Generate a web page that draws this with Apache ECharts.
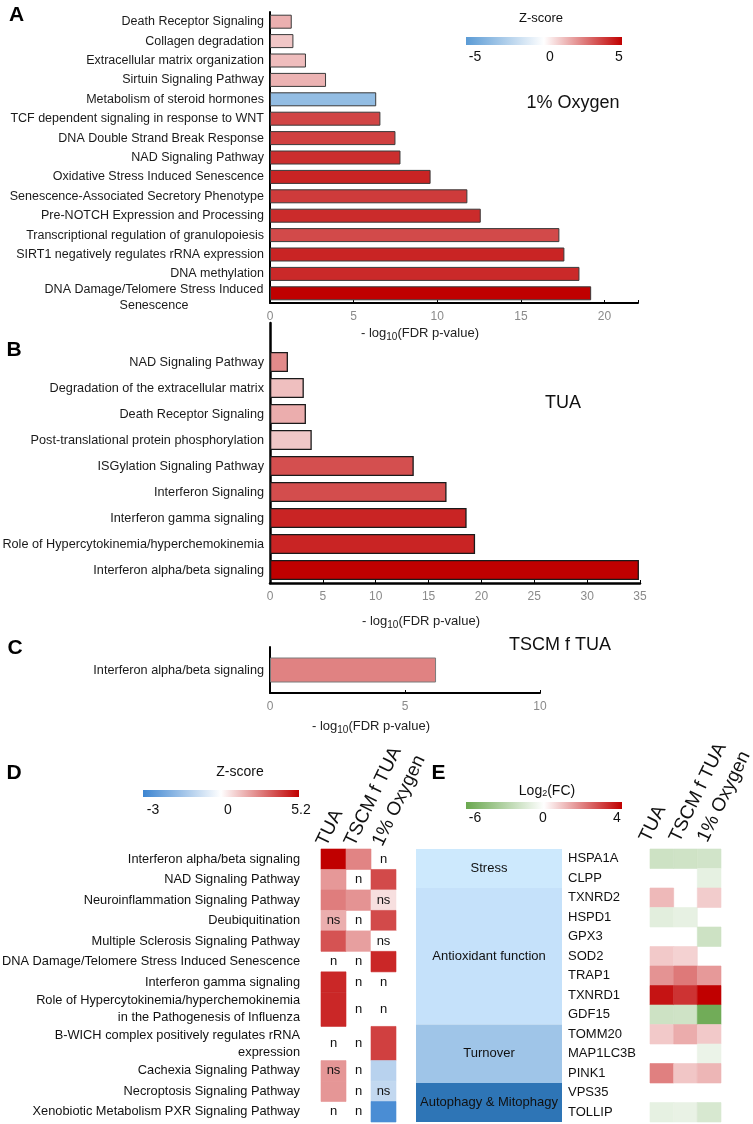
<!DOCTYPE html>
<html>
<head>
<meta charset="utf-8">
<script src="https://cdn.jsdelivr.net/npm/echarts@6.0.0/dist/echarts.min.js"></script>
<style>
html,body{margin:0;padding:0;background:#fff;}
#chart{width:753px;height:1124px;}
</style>
</head>
<body>
<div id="chart"></div>
<script>
// ---------------- DATA ----------------
const catA = ['Death Receptor Signaling','Collagen degradation','Extracellular matrix organization','Sirtuin Signaling Pathway','Metabolism of steroid hormones','TCF dependent signaling in response to WNT','DNA Double Strand Break Response','NAD Signaling Pathway','Oxidative Stress Induced Senescence','Senescence-Associated Secretory Phenotype','Pre-NOTCH Expression and Processing','Transcriptional regulation of granulopoiesis','SIRT1 negatively regulates rRNA expression','DNA methylation','DNA Damage/Telomere Stress Induced Senescence'];
const valA = [1.3, 1.4, 2.15, 3.35, 6.35, 6.6, 7.5, 7.8, 9.6, 11.8, 12.6, 17.3, 17.6, 18.5, 19.2];
const zA = [1.55, 1.1, 1.3, 1.5, -3.3, 3.65, 3.75, 4.1, 4.3, 3.85, 4.15, 3.55, 4.3, 4.2, 5.0];

const catB = ['NAD Signaling Pathway','Degradation of the extracellular matrix','Death Receptor Signaling','Post-translational protein phosphorylation','ISGylation Signaling Pathway','Interferon Signaling','Interferon gamma signaling','Role of Hypercytokinemia/hyperchemokinemia','Interferon alpha/beta signaling'];
const valB = [1.7, 3.2, 3.4, 3.95, 13.6, 16.7, 18.6, 19.4, 34.9];
const zB = [2.3, 1.25, 1.6, 1.1, 3.45, 3.5, 4.3, 4.3, 5.0];

const catC = ['Interferon alpha/beta signaling'];
const valC = [6.15];
const zC = [2.45];

const pathwaysD = ['Interferon alpha/beta signaling','NAD Signaling Pathway','Neuroinflammation Signaling Pathway','Deubiquitination','Multiple Sclerosis Signaling Pathway','DNA Damage/Telomere Stress Induced Senescence','Interferon gamma signaling','Role of Hypercytokinemia/hyperchemokinemia\nin the Pathogenesis of Influenza','B-WICH complex positively regulates rRNA\nexpression','Cachexia Signaling Pathway','Necroptosis Signaling Pathway','Xenobiotic Metabolism PXR Signaling Pathway'];
const conditions = ['TUA','TSCM f TUA','1% Oxygen'];
const zD_TUA  = [5.2, 2.1, 2.65, 1.65, 3.5, null, 4.4, 4.4, null, 2.15, 2.15, null];
const zD_TSCM = [2.5, null, 2.2, null, 1.95, null, null, null, null, null, null, null];
const zD_O2   = [null, 3.7, 0.65, 3.7, 0, 4.4, null, null, 3.9, -1.1, -0.95, -2.8];
const sigD_TUA  = ['', '', '', 'ns', '', 'n', '', '', 'n', 'ns', '', 'n'];
const sigD_TSCM = ['', 'n', '', 'n', '', 'n', 'n', 'n', 'n', 'n', 'n', 'n'];
const sigD_O2   = ['n', '', 'ns', '', 'ns', '', 'n', 'n', '', '', 'ns', ''];

const genesE = ['HSPA1A','CLPP','TXNRD2','HSPD1','GPX3','SOD2','TRAP1','TXNRD1','GDF15','TOMM20','MAP1LC3B','PINK1','VPS35','TOLLIP'];
const fcE_TUA  = [-2.0, null, 1.1, -1.15, null, 0.85, 1.7, 3.7, -2.0, 0.85, null, 2.0, null, -1.0];
const fcE_TSCM = [-1.95, null, null, -0.95, null, 0.7, 2.1, 3.2, -1.95, 1.3, null, 0.9, null, -0.9];
const fcE_O2   = [-1.85, -1.0, 0.8, null, -2.0, null, 1.6, 4.0, -5.7, 0.85, -0.8, 1.15, null, -1.6];
const groupsE = ['Stress','Antioxidant function','Turnover','Autophagy & Mitophagy'];
const groupSizeE = [2, 7, 3, 2];

const ticksZA = ['-5','0','5'];
const ticksZD = ['-3','0','5.2'];
const ticksFC = ['-6','0','4'];

// ---------------- STYLE ----------------
const FONT = '"Liberation Sans", Arial, sans-serif';
const Z_NEG = '#5b9bd5', Z_POS = '#c00000', D_NEG = '#3d85d1', FC_NEG = '#6aa84f';
const GROUP_COLORS = ['#cde9fd', '#c5e1fa', '#9fc5e8', '#2e75b6'];

function hexRGB(c){ return [parseInt(c.slice(1,3),16), parseInt(c.slice(3,5),16), parseInt(c.slice(5,7),16)]; }
function mixWhite(c, t){ const a = hexRGB(c); return 'rgb(' + a.map(v => Math.round(255 + (v - 255) * t)).join(',') + ')'; }
function divColor(v, lo, hi, neg, pos){
  if (v === null || v === undefined) return null;
  if (v >= 0) return mixWhite(pos, Math.min(v / hi, 1));
  return mixWhite(neg, Math.min(v / lo, 1));
}

const NAME = '{n|- log}{s|10}{n|(FDR p-value)}';
const nameStyle = {
  color: '#222', fontFamily: FONT, padding: [0, 68, 0, 0],
  rich: { n: {fontSize: 13, color: '#222', fontFamily: FONT}, s: {fontSize: 10, color: '#222', fontFamily: FONT, padding: [7, 0, 0, 0]} }
};

function valueAxis(grid, max, lineW, nameGap){
  return {
    gridIndex: grid, type: 'value', min: 0, max: max, interval: 5,
    axisLine: {show: true, onZero: false, lineStyle: {color: '#000', width: lineW}},
    axisTick: {show: true, inside: true, length: 3, lineStyle: {color: '#000', width: 1}},
    axisLabel: {color: '#8a8a8a', fontSize: 12, fontFamily: FONT, margin: 8, formatter: v => (v % 5 === 0 ? String(v) : '')},
    splitLine: {show: false},
    name: NAME, nameLocation: 'middle', nameGap: nameGap, nameTextStyle: nameStyle
  };
}

function catAxis(grid, data, fontSize, lineW){
  return {
    gridIndex: grid, type: 'category', inverse: true, data: data,
    axisLine: {show: true, lineStyle: {color: '#000', width: lineW}},
    axisTick: {show: false},
    axisLabel: {
      interval: 0, color: '#1a1a1a', fontSize: fontSize, fontFamily: FONT, margin: 6,
      formatter: function(v){
        if (v === 'DNA Damage/Telomere Stress Induced Senescence')
          return '{e|}\n{c|DNA Damage/Telomere Stress Induced}\n{c|Senescence}';
        return v;
      },
      rich: {
        c: {width: 220, align: 'center', fontSize: fontSize, fontFamily: FONT, color: '#1a1a1a', lineHeight: 16},
        e: {lineHeight: 9, fontSize: 1}
      }
    }
  };
}

function barData(vals, zs){
  return vals.map((v, i) => ({value: v, itemStyle: {color: divColor(zs[i], -5, 5, Z_NEG, Z_POS)}}));
}

// D heatmap rows: two-line labels take a taller row
const rowUnitsD = pathwaysD.map(p => 3 + 2 * (p.split('\n').length - 1));
const rowStartD = [];
rowUnitsD.reduce((acc, u, i) => { rowStartD[i] = acc; return acc + u; }, 0);
const totalUnitsD = rowUnitsD.reduce((a, b) => a + b, 0);

const zD = [zD_TUA, zD_TSCM, zD_O2];
const sigD = [sigD_TUA, sigD_TSCM, sigD_O2];
const cellsD = [];
zD.forEach((arr, c) => arr.forEach((z, r) => cellsD.push([c, r, z, sigD[c][r]])));

const fcE = [fcE_TUA, fcE_TSCM, fcE_O2];
const cellsE = [];
fcE.forEach((arr, c) => arr.forEach((v, r) => { if (v !== null) cellsE.push([c, r, v]); }));

const groupStartE = [];
groupSizeE.reduce((acc, n, i) => { groupStartE[i] = acc; return acc + n; }, 0);

function txt(text, x, y, size, opts){
  opts = opts || {};
  return {
    type: 'text', x: x, y: y, rotation: opts.rotation || 0, silent: true,
    style: {
      text: text, fill: opts.color || '#111',
      font: (opts.bold ? 'bold ' : '') + size + 'px ' + FONT,
      align: opts.align || 'center', verticalAlign: opts.valign || 'middle',
      textAlign: opts.align || 'center', textVerticalAlign: opts.valign || 'middle',
      rich: opts.rich
    }
  };
}
function gradBar(x, y, w, h, neg, pos){
  return {
    type: 'rect', silent: true, shape: {x: x, y: y, width: w, height: h},
    style: {fill: {type: 'linear', x: 0, y: 0, x2: 1, y2: 0, colorStops: [
      {offset: 0, color: neg}, {offset: 0.5, color: '#ffffff'}, {offset: 1, color: pos}]}}
  };
}
function legendTicks(labels, xs, y){
  return labels.map((t, i) => txt(t, xs[i], y, 14, {color: '#111'}));
}

const rad = Math.PI / 180;
const headerRot = 64 * rad;
const G = (o) => Object.assign({outerBoundsMode: 'none', containLabel: false}, o);

const option = {
  animation: false,
  backgroundColor: '#fff',
  textStyle: {fontFamily: FONT},
  grid: [
    G({left: 270, top: 12, width: 368, height: 291}),
    G({left: 270, top: 323, width: 370, height: 260}),
    G({left: 270, top: 647, width: 270, height: 46}),
    G({left: 321, top: 849, width: 75, height: 273}),
    G({left: 416, top: 849, width: 146, height: 273}),
    G({left: 650, top: 849, width: 71, height: 273})
  ],
  xAxis: [
    valueAxis(0, 22, 2, 22),
    valueAxis(1, 35, 2.5, 30),
    valueAxis(2, 10, 2, 25),
    {gridIndex: 3, type: 'category', data: conditions, show: false},
    {gridIndex: 4, type: 'value', min: 0, max: 1, show: false},
    {gridIndex: 5, type: 'category', data: conditions, show: false}
  ],
  yAxis: [
    catAxis(0, catA, 12.5, 2),
    catAxis(1, [''].concat(catB), 12.7, 2.5),
    catAxis(2, catC, 12.7, 2),
    {gridIndex: 3, type: 'value', inverse: true, min: 0, max: totalUnitsD, show: false},
    {gridIndex: 4, type: 'category', inverse: true, data: genesE, show: false},
    {gridIndex: 5, type: 'category', inverse: true, data: genesE,
     axisLine: {show: false}, axisTick: {show: false},
     axisLabel: {interval: 0, align: 'left', margin: 82, fontSize: 13, fontFamily: FONT, color: '#111'}}
  ],
  series: [
    {type: 'bar', xAxisIndex: 0, yAxisIndex: 0, data: barData(valA, zA), barWidth: 14,
     itemStyle: {borderColor: '#3a3a3a', borderWidth: 1}},
    {type: 'bar', xAxisIndex: 1, yAxisIndex: 1, data: [null].concat(barData(valB, zB)), barWidth: 20,
     itemStyle: {borderColor: '#1a1a1a', borderWidth: 1.3}},
    {type: 'bar', xAxisIndex: 2, yAxisIndex: 2, data: barData(valC, zC), barWidth: 25,
     itemStyle: {borderColor: '#7a7a7a', borderWidth: 1}},
    {type: 'custom', xAxisIndex: 3, yAxisIndex: 3, data: cellsD.map(d => [d[0], d[1]]),
     renderItem: function(params, api){
       const d = cellsD[params.dataIndex];
       const y0 = rowStartD[d[1]], y1 = y0 + rowUnitsD[d[1]];
       const pT = api.coord([d[0], y0]), pB = api.coord([d[0], y1]);
       const w = api.size([1, 0])[0];
       const x = pT[0] - w / 2, y = pT[1], h = pB[1] - pT[1];
       const children = [];
       const fill = divColor(d[2], -3, 5.2, D_NEG, Z_POS);
       if (fill) children.push({type: 'rect', shape: {x: x, y: y, width: w, height: h}, style: {fill: fill, stroke: fill, lineWidth: 0.6}});
       if (d[3]) children.push({type: 'text', style: {text: d[3], x: pT[0], y: y + h / 2, align: 'center', verticalAlign: 'middle', textAlign: 'center', textVerticalAlign: 'middle', font: '13px ' + FONT, fill: '#111'}});
       return {type: 'group', children: children};
     }},
    {type: 'custom', xAxisIndex: 3, yAxisIndex: 3, data: pathwaysD.map((p, r) => [0, r]),
     renderItem: function(params, api){
       const r = params.dataIndex;
       const p = api.coord([0, rowStartD[r] + rowUnitsD[r] / 2]);
       const w = api.size([1, 0])[0];
       return {type: 'text', style: {text: pathwaysD[r], x: p[0] - w / 2 - 21, y: p[1], align: 'right', verticalAlign: 'middle', textAlign: 'right', textVerticalAlign: 'middle', font: '12.8px ' + FONT, fill: '#111', lineHeight: 17}};
     }},
    {type: 'custom', xAxisIndex: 4, yAxisIndex: 4, data: groupsE.map((g, i) => [0, groupStartE[i]]),
     renderItem: function(params, api){
       const i = params.dataIndex;
       const s = groupStartE[i], n = groupSizeE[i];
       const h = api.size([0, 1])[1];
       const pA = api.coord([0, s]), pB = api.coord([1, s + n - 1]);
       const top = pA[1] - h / 2, bottom = pB[1] + h / 2;
       return {type: 'group', children: [
         {type: 'rect', shape: {x: pA[0], y: top, width: pB[0] - pA[0], height: bottom - top}, style: {fill: GROUP_COLORS[i]}},
         {type: 'text', style: {text: groupsE[i], x: (pA[0] + pB[0]) / 2, y: (top + bottom) / 2, align: 'center', verticalAlign: 'middle', textAlign: 'center', textVerticalAlign: 'middle', font: '13px ' + FONT, fill: '#111'}}
       ]};
     }},
    {type: 'custom', xAxisIndex: 5, yAxisIndex: 5, data: cellsE.map(d => [d[0], d[1]]),
     renderItem: function(params, api){
       const d = cellsE[params.dataIndex];
       const p = api.coord([d[0], d[1]]);
       const s = api.size([1, 1]);
       const fill = divColor(d[2], -6, 4, FC_NEG, Z_POS);
       return {type: 'rect', shape: {x: p[0] - s[0] / 2, y: p[1] - s[1] / 2, width: s[0], height: s[1]}, style: {fill: fill, stroke: fill, lineWidth: 0.6}};
     }}
  ],
  graphic: [
    // panel letters
    txt('A', 16.5, 15, 21, {bold: true, color: '#000'}),
    txt('B', 14, 350, 21, {bold: true, color: '#000'}),
    txt('C', 15, 648, 21, {bold: true, color: '#000'}),
    txt('D', 14, 773, 21, {bold: true, color: '#000'}),
    txt('E', 438.5, 773, 21, {bold: true, color: '#000'}),
    // panel titles
    txt('1% Oxygen', 573, 103, 18, {color: '#111'}),
    txt('TUA', 563, 403, 18, {color: '#111'}),
    txt('TSCM f TUA', 560, 645, 18, {color: '#111'}),
    // legend A
    txt('Z-score', 541, 18, 13, {color: '#111'}),
    gradBar(466, 37, 156, 8, Z_NEG, Z_POS)
  ].concat(legendTicks(ticksZA, [475, 550, 619], 57)).concat([
    // legend D
    txt('Z-score', 240, 772, 14, {color: '#111'}),
    gradBar(143, 790, 156, 7, D_NEG, Z_POS)
  ]).concat(legendTicks(ticksZD, [153, 228, 301], 810)).concat([
    // legend E
    txt('Log{s|2}(FC)', 547, 791, 14, {color: '#111', rich: {s: {fontSize: 9, fontFamily: FONT, padding: [6, 0, 0, 0], fill: '#111'}}}),
    gradBar(466, 802, 156, 7, FC_NEG, Z_POS)
  ]).concat(legendTicks(ticksFC, [475, 543, 617], 818))
    // rotated column headers
    .concat(conditions.map((c, i) => txt(c, [330, 358, 386][i], 849, 19, {rotation: headerRot, align: 'left', valign: 'bottom', color: '#111'})))
    .concat(conditions.map((c, i) => txt(c, [653, 683, 711][i], 845, 19, {rotation: headerRot, align: 'left', valign: 'bottom', color: '#111'})))
};

const chart = echarts.init(document.getElementById('chart'), null, {renderer: 'canvas'});
chart.setOption(option);
</script>
</body>
</html>
